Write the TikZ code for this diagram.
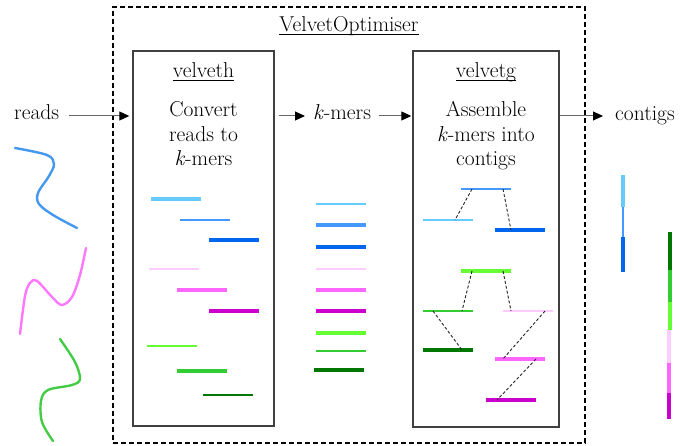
\documentclass[tikz,border=0pt]{standalone}
\usetikzlibrary{arrows.meta}
\definecolor{lb}{HTML}{66CCFF}
\definecolor{mb}{HTML}{4499FF}
\definecolor{db}{HTML}{0066EE}
\definecolor{lp}{HTML}{FFCCFF}
\definecolor{pk}{HTML}{FF66FF}
\definecolor{mg}{HTML}{CC00CC}
\definecolor{lg}{HTML}{66FF33}
\definecolor{gn}{HTML}{33CC33}
\definecolor{dg}{HTML}{007700}
\definecolor{sqb}{HTML}{4499EE}
\definecolor{sqp}{HTML}{FF77FF}
\definecolor{sqg}{HTML}{44CC44}
\newcommand\myul[1]{\setbox0\hbox{#1}\rlap{\rule[-2.8pt]{\wd0}{0.9pt}}\box0}
\begin{document}
\begin{tikzpicture}[x=1pt,y=-1pt,
  txt/.style={inner sep=0pt, anchor=base, font=\fontsize{21.5}{25}\selectfont},
  procbox/.style={draw=black!75, line width=1.4pt, inner sep=0pt},
  outerbox/.style={draw=black, line width=1.1pt, dash pattern=on 5pt off 3pt, inner sep=0pt},
  arr/.style={draw=black!60, line width=1pt, -{Triangle[length=10pt,width=9pt,fill=black,color=black]}},
  hbar/.style={fill=#1, inner sep=0pt, minimum width=50pt, minimum height=3.6pt},
  hbarthin/.style={fill=#1, inner sep=0pt, minimum width=50pt, minimum height=2.6pt},
  vbar/.style={fill=#1, inner sep=0pt, minimum width=4pt},
  link/.style={draw=black!85, line width=0.9pt, dash pattern=on 3pt off 2pt},
  squig/.style={line width=2.4pt, line cap=round, draw=#1}
]
\useasboundingbox (0,0) rectangle (680,446);

% outer dashed box
\node[outerbox, minimum width=472pt, minimum height=436pt] (opt) at (349,225) {};
\node[txt] (optt) at (349,32) {\myul{VelvetOptimiser}};

% process boxes
\node[procbox, minimum width=141pt, minimum height=375pt] (velveth) at (203.5,238.5) {};
\node[procbox, minimum width=146pt, minimum height=376pt] (velvetg) at (486,239) {};

\node[txt] (vht) at (203.5,78) {\myul{velveth}};
\node[txt] (vh1) at (203.5,117) {Convert};
\node[txt] (vh2) at (203.5,142) {reads to};
\node[txt] (vh3) at (203.5,166) {\textit{k}-mers};

\node[txt] (vgt) at (486,78) {\myul{velvetg}};
\node[txt] (vg1) at (486,117) {Assemble};
\node[txt] (vg2) at (486,142) {\textit{k}-mers into};
\node[txt] (vg3) at (486,166) {contigs};

% side labels
\node[txt, anchor=base west] (reads) at (14,120) {reads};
\node[txt, anchor=base west] (kmers) at (313,120) {\textit{k}-mers};
\node[txt, anchor=base west] (contigs) at (615,121) {contigs};
\coordinate (row) at (0,116);

\draw[arr, shorten <=10pt, shorten >=3pt] (reads.east |- row) -- (velveth.west |- row);
\draw[arr, shorten <=4pt, shorten >=8pt] (velveth.east |- row) -- (kmers.west |- row);
\draw[arr, shorten <=8pt, shorten >=1pt] (kmers.east |- row) -- (velvetg.west |- row);
\draw[arr, shorten >=12pt] (velvetg.east |- row) -- (contigs.west |- row);

% reads squiggles
\draw[squig=sqb] plot[smooth, tension=0.55] coordinates {(15,148) (47,155) (54,164) (49,176) (38,193) (39,204) (53,215) (77,228)};
\draw[squig=sqp] plot[smooth, tension=0.55] coordinates {(86,248) (80,275) (72,297) (62,305) (53,298) (37,281) (30,283) (25,296) (20,334)};
\draw[squig=sqg] plot[smooth, tension=0.55] coordinates {(60,339) (75,362) (80,379) (72,385) (48,390) (41,401) (42,422) (53,441)};

% velveth bars
\node[hbar=lb] (h1) at (176,199) {};
\node[hbarthin=mb] (h2) at (205,220) {};
\node[hbar=db] (h3) at (234,240) {};
\node[hbarthin=lp] (h4) at (174,269) {};
\node[hbar=pk] (h5) at (202,290) {};
\node[hbar=mg] (h6) at (234,311) {};
\node[hbarthin=lg] (h7) at (172,346) {};
\node[hbar=gn] (h8) at (202,371) {};
\node[hbarthin=dg] (h9) at (227.5,395) {};

% k-mers column
\node[hbarthin=lb] (k1) at (340.5,204) {};
\node[hbar=mb] (k2) at (340.5,225) {};
\node[hbar=db] (k3) at (340.5,247) {};
\node[hbarthin=lp] (k4) at (340.5,269) {};
\node[hbar=pk] (k5) at (340.5,290) {};
\node[hbar=mg] (k6) at (340.5,311) {};
\node[hbar=lg] (k7) at (340.5,333) {};
\node[hbarthin=gn] (k8) at (340.5,351) {};
\node[hbar=dg] (k9) at (338.5,370) {};

% velvetg bars
\node[hbarthin=mb] (gA) at (486,189) {};
\node[hbarthin=lb] (gB) at (448,220) {};
\node[hbar=db] (gC) at (520,230) {};
\node[hbar=lg] (gD) at (486,271) {};
\node[hbarthin=gn] (gE) at (448,311) {};
\node[hbarthin=lp] (gF) at (527.5,311) {};
\node[hbar=dg] (gG) at (448,350) {};
\node[hbar=pk] (gH) at (520,359) {};
\node[hbar=mg] (gI) at (510.5,400) {};

\draw[link] ([xshift=-14pt]gA.center) -- ([xshift=7pt]gB.center);
\draw[link] ([xshift=17pt]gA.center) -- ([xshift=-9pt]gC.center);
\draw[link] ([xshift=-14pt]gD.center) -- ([xshift=14pt]gE.center);
\draw[link] ([xshift=17pt]gD.center) -- ([xshift=-16.5pt]gF.center);
\draw[link] ([xshift=-15pt]gE.center) -- ([xshift=14pt]gG.center);
\draw[link] ([xshift=17.5pt]gF.center) -- ([xshift=-17pt]gH.center);
\draw[link] ([xshift=16pt]gH.center) -- ([xshift=-13.5pt]gI.center);

% contigs
\node[vbar=lb, minimum height=32pt] (c1) at (623,191) {};
\node[vbar=mb, minimum width=2pt, minimum height=30pt] (c2) at (623,222) {};
\node[vbar=db, minimum height=35pt] (c3) at (623,254.5) {};

\node[vbar=dg, minimum height=38pt] (d1) at (670,251) {};
\node[vbar=gn, minimum height=32pt] (d2) at (670,286) {};
\node[vbar=lg, minimum height=28pt] (d3) at (670,316) {};
\node[vbar=lp, minimum height=33pt] (d4) at (669,346.5) {};
\node[vbar=pk, minimum height=30pt] (d5) at (669,378) {};
\node[vbar=mg, minimum height=26pt] (d6) at (669,406) {};
\end{tikzpicture}
\end{document}
